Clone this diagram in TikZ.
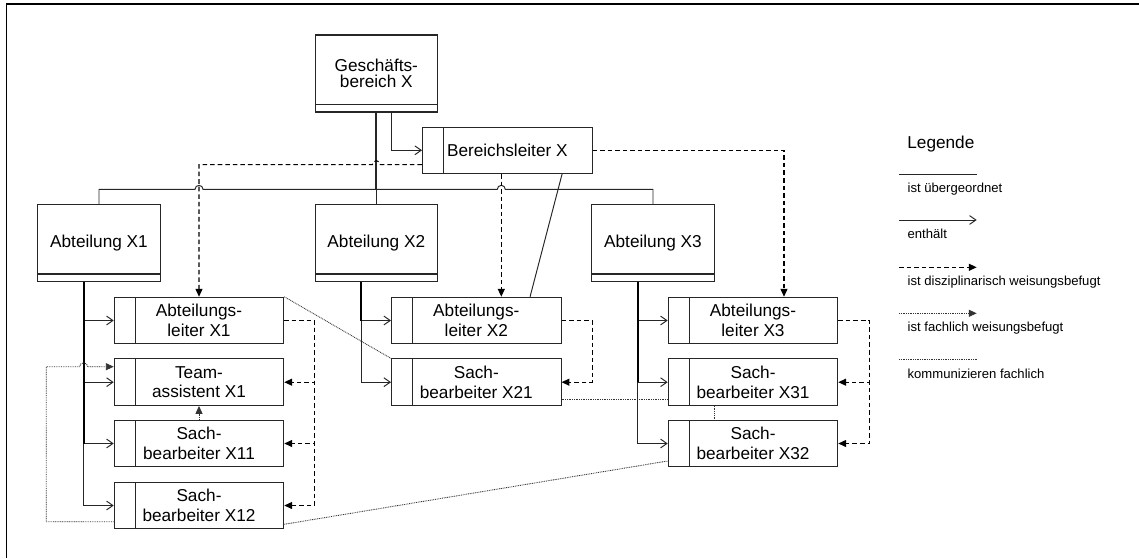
\documentclass[tikz,border=0pt]{standalone}
\usepackage{fontspec}
\setmainfont{Liberation Sans}
\usetikzlibrary{arrows.meta}

\tikzset{
  unit/.style={shape=rectangle, draw=black!85, line width=0.6pt, minimum width=2.45cm, minimum height=1.54cm,
    inner sep=0pt, align=center, font=\fontsize{9.8}{11.2}\selectfont,
    path picture={\draw[black!85, line width=0.6pt] ([yshift=0.154cm]path picture bounding box.south west) -- ([yshift=0.154cm]path picture bounding box.south east);}},
  role/.style={shape=rectangle, draw=black!85, line width=0.6pt, minimum width=3.39cm, minimum height=0.93cm,
    inner sep=0pt, align=center, font=\fontsize{9.8}{11.2}\selectfont,
    path picture={\draw[black!85, line width=0.6pt] ([xshift=0.428cm]path picture bounding box.south west) -- ([xshift=0.428cm]path picture bounding box.north west);}},
  uebergeordnet/.style={draw=black!85, line width=0.55pt},
  enthaelt/.style={draw=black!85, line width=0.55pt, -{Straight Barb[length=3.6pt,width=5pt]}},
  diszipl/.style={draw=black, line width=0.6pt, dash pattern=on 2.6pt off 1.7pt, -{Triangle[length=4.5pt,width=4pt]}},
  fachlich/.style={draw=black!80, line width=0.5pt, dash pattern=on 0.5pt off 0.5pt, -{Triangle[length=4.5pt,width=4pt]}},
  kommu/.style={draw=black!80, line width=0.5pt, dash pattern=on 0.5pt off 0.5pt},
  legtext/.style={anchor=base west, inner sep=0pt, font=\fontsize{7.45}{9}\selectfont}
}

\begin{document}
\begin{tikzpicture}[x=0.02cm, y=0.02cm]
        \useasboundingbox (0,0) rectangle (1139,-558);
        \draw[line width=0.8pt] (1139,-4) -- (6.5,-4) -- (6.5,-558);

        % Organisationseinheiten
        \node[unit, font=\fontsize{9.8}{9.3}\selectfont] (GB) at (376.3,-73.5) {Geschäfts-\\bereich X};
        \node[unit] (Abt1) at (99,-243.2) {Abteilung X1};
        \node[unit] (Abt2) at (376.3,-243.2) {Abteilung X2};
        \node[unit] (Abt3) at (653,-243.2) {Abteilung X3};

        % Stellen
        \node[role] (BL) at (507.3,-150.3) {Bereichsleiter X};
        \node[role] (AL1) at (199,-320.5) {Abteilungs-\\leiter X1};
        \node[role] (TA1) at (199,-382.2) {Team-\\assistent X1};
        \node[role] (SB11) at (199,-443.5) {Sach-\\bearbeiter X11};
        \node[role] (SB12) at (199,-505.5) {Sach-\\bearbeiter X12};
        \node[role] (AL2) at (476.3,-320.5) {Abteilungs-\\leiter X2};
        \node[role] (SB21) at (476.3,-382.2) {Sach-\\bearbeiter X21};
        \node[role] (AL3) at (753,-320.5) {Abteilungs-\\leiter X3};
        \node[role] (SB31) at (753,-382.2) {Sach-\\bearbeiter X31};
        \node[role] (SB32) at (753,-443.5) {Sach-\\bearbeiter X32};

        \coordinate (bus) at (376.3,-189.3);
        \coordinate (t1) at ([xshift=-0.306cm]Abt1.south);
        \coordinate (t2) at ([xshift=-0.306cm]Abt2.south);
        \coordinate (t3) at ([xshift=-0.306cm]Abt3.south);
        \coordinate (d2) at ([xshift=0.5cm]AL2.north);
        \coordinate (d3) at ([xshift=0.62cm]AL3.north);

        % ist uebergeordnet
        \draw[uebergeordnet] (GB.south) -- (bus) -- (203,-189.3) arc[start angle=0, end angle=180, radius=2.27pt] -| (Abt1.north);
        \draw[uebergeordnet] (GB.south) -- (Abt2.north);
        \draw[uebergeordnet] (GB.south) -- (bus) -- (497.3,-189.3) arc[start angle=180, end angle=0, radius=2.27pt] -| (Abt3.north);
        \draw[uebergeordnet, line width=1.1pt] (GB.south) -- (bus);
        \draw[uebergeordnet] ([xshift=-0.61cm]BL.south east) -- ([xshift=-0.63cm]AL2.north east);

        % enthaelt
        \draw[enthaelt] ([xshift=0.306cm]GB.south) |- (BL.west);
        \draw[enthaelt] (t1) |- (AL1.west);
        \draw[enthaelt] (t1) |- (TA1.west);
        \draw[enthaelt] (t1) |- (SB11.west);
        \draw[enthaelt] (t1) |- (SB12.west);
        \draw[line width=1.1pt] (t1) -- (t1 |- SB11.west);
        \draw[enthaelt] (t2) |- (AL2.west);
        \draw[enthaelt] (t2) |- (SB21.west);
        \draw[line width=1.1pt] (t2) -- (t2 |- AL2.west);
        \draw[enthaelt] (t3) |- (AL3.west);
        \draw[enthaelt] (t3) |- (SB31.west);
        \draw[enthaelt] (t3) |- (SB32.west);
        \draw[line width=1.1pt] (t3) -- (t3 |- SB31.west);

        % ist disziplinarisch weisungsbefugt
        \draw[diszipl] ([yshift=-0.288cm]BL.west) -- (380.3,-164.7) arc[start angle=0, end angle=180, radius=2.27pt] -| (AL1.north);
        \draw[diszipl] (d2 |- BL.south) -- (d2);
        \draw[diszipl] (BL.east) -| (d3);
        \draw[diszipl] (AL1.east) -- ++(0.612cm,0) |- (TA1.east);
        \draw[diszipl] (AL1.east) -- ++(0.612cm,0) |- (SB11.east);
        \draw[diszipl] (AL1.east) -- ++(0.612cm,0) |- (SB12.east);
        \draw[diszipl] (AL2.east) -- ++(0.614cm,0) |- (SB21.east);
        \draw[diszipl] (AL3.east) -- ++(0.62cm,0) |- (SB31.east);
        \draw[diszipl] (AL3.east) -- ++(0.62cm,0) |- (SB32.east);

        % ist fachlich weisungsbefugt
        \draw[fachlich] (SB11.north) -- (TA1.south);
        \draw[fachlich] ([yshift=-0.324cm]SB12.west) -| (46.3,-366.7) -- (79.7,-366.7) arc[start angle=180, end angle=0, radius=2.27pt] -- ([yshift=0.31cm]TA1.west);

        % kommunizieren fachlich
        \draw[kommu] (AL1.north east) -- (SB21.north west);
        \draw[kommu] ([yshift=-0.336cm]SB21.east) -- ([yshift=-0.336cm]SB31.west);
        \draw[kommu] ([xshift=-0.774cm]SB31.south) -- ([xshift=-0.774cm]SB32.north);
        \draw[kommu] ([yshift=-0.376cm]SB12.east) -- ([yshift=-0.35cm]SB32.west);

        % Legende
        \node[anchor=base west, inner sep=0pt, font=\fontsize{9.8}{11.2}\selectfont] (legende) at (907,-148.3) {Legende};
        \coordinate (l1a) at (899,-174);
        \coordinate (l1b) at (976.7,-174);
        \coordinate (l2a) at (899,-220);
        \coordinate (l2b) at (976.7,-220);
        \coordinate (l3a) at (899,-267.3);
        \coordinate (l3b) at (976.7,-267.3);
        \coordinate (l4a) at (899,-313.3);
        \coordinate (l4b) at (976.7,-313.3);
        \coordinate (l5a) at (899,-359.3);
        \coordinate (l5b) at (976.7,-359.3);
        \draw[uebergeordnet] (l1a) -- (l1b);
        \draw[enthaelt] (l2a) -- (l2b);
        \draw[diszipl] (l3a) -- (l3b);
        \draw[fachlich] (l4a) -- (l4b);
        \draw[kommu] (l5a) -- (l5b);
        \node[legtext] (leg1) at (907.3,-192.3) {ist übergeordnet};
        \node[legtext] (leg2) at (907.3,-238.3) {enthält};
        \node[legtext] (leg3) at (907.3,-285.7) {ist disziplinarisch weisungsbefugt};
        \node[legtext] (leg4) at (907.3,-331.7) {ist fachlich weisungsbefugt};
        \node[legtext] (leg5) at (907.3,-378.3) {kommunizieren fachlich};
\end{tikzpicture}
\end{document}
